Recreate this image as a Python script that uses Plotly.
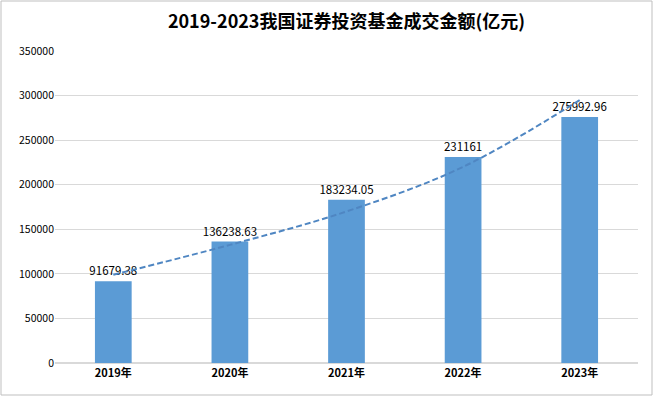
import plotly.graph_objects as go

categories = ["2019年", "2020年", "2021年", "2022年", "2023年"]
values = [91679.38, 136238.63, 183234.05, 231161, 275992.96]
labels = ["91679.38", "136238.63", "183234.05", "231161", "275992.96"]
trend = [99000, 132500, 170000, 220000, 295000]
y_ticks = [0, 50000, 100000, 150000, 200000, 250000, 300000, 350000]

W, H = 654, 397
ml, mr, mt, mb = 55, 16, 51, 34

fig = go.Figure()
fig.add_trace(go.Bar(
    x=categories, y=values, width=0.315,
    marker=dict(color="#5B9BD5", line=dict(width=0)),
    text=labels, textposition="outside", textangle=0, constraintext="none",
    textfont=dict(size=11.5, color="#000000", family="Noto Sans CJK SC"),
    cliponaxis=False, showlegend=False,
))
fig.add_trace(go.Scatter(
    x=categories, y=trend, mode="lines",
    line=dict(color="#4F86C2", width=2, dash="6px,3px", shape="spline"),
    showlegend=False, hoverinfo="skip",
))

px = lambda v: v / (W - ml - mr)
py = lambda v: v / (H - mt - mb)
fig.add_shape(type="rect", xref="paper", yref="paper",
              x0=px(-ml + 1), x1=1 + px(mr - 2), y0=-py(mb - 2), y1=1 + py(mt - 1),
              line=dict(color="#BFBFBF", width=1), fillcolor="rgba(0,0,0,0)", layer="below")

fig.update_layout(
    width=W, height=H,
    margin=dict(l=ml, r=mr, t=mt, b=mb),
    paper_bgcolor="white", plot_bgcolor="white",
    title=dict(text="<b>2019-2023我国证券投资基金成交金额(亿元)</b>", x=0.5, xref="paper",
               y=1 - 22 / H, yanchor="middle",
               font=dict(size=18, color="#000000", family="Noto Sans CJK SC")),
    bargap=0.685,
    xaxis=dict(showgrid=False, showline=True, linecolor="#D9D9D9", ticks="",
               tickfont=dict(size=11, color="#000000", family="Noto Sans CJK SC", weight="bold")),
    yaxis=dict(range=[0, 350000], tickvals=y_ticks, ticktext=[str(t) for t in y_ticks],
               showgrid=True, gridcolor="#D9D9D9", gridwidth=1, zeroline=True,
               zerolinecolor="#D9D9D9", ticks="", ticklen=0,
               tickfont=dict(size=10.5, color="#000000", family="Noto Sans CJK SC")),
    font=dict(family="Noto Sans CJK SC"),
)

fig.write_html("out.html", config={"displayModeBar": False},
               post_script="document.body.style.margin='0';document.body.style.overflow='hidden';")
